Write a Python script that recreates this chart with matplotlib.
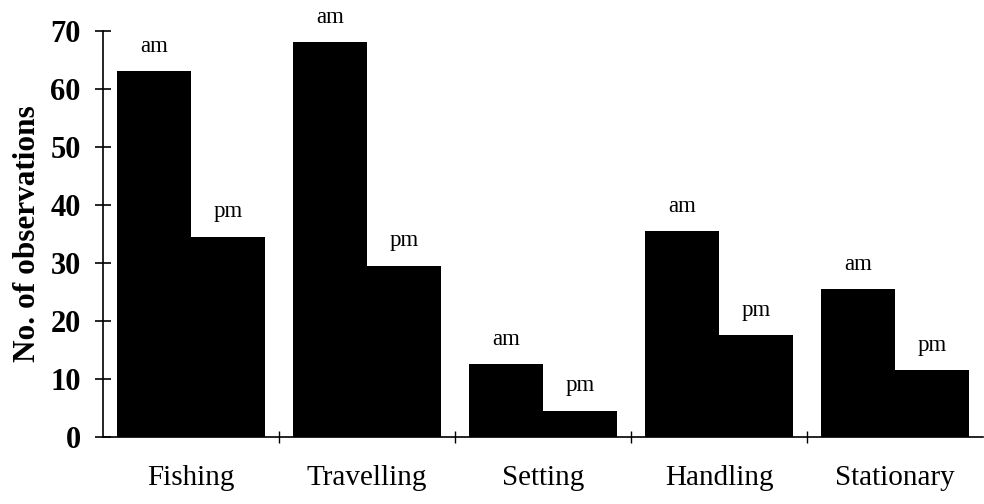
import matplotlib
matplotlib.use("Agg")
import matplotlib.pyplot as plt
import numpy as np

categories = ["Fishing", "Travelling", "Setting", "Handling", "Stationary"]
am_values = [63, 68, 12.5, 35.5, 25.5]
pm_values = [34.5, 29.5, 4.5, 17.5, 11.5]
yticks = [0, 10, 20, 30, 40, 50, 60, 70]

plt.rcParams['font.family'] = ['Liberation Serif', 'DejaVu Serif']

fig = plt.figure(figsize=(9.84, 5.04), dpi=100)
ax = fig.add_axes([103/984, 1-437/504, 880/984, (437-30.7)/504])

x = np.arange(len(categories)) + 0.5
w = 0.42
b1 = ax.bar(x - w/2, am_values, width=w, color='black', linewidth=0)
b2 = ax.bar(x + w/2, pm_values, width=w, color='black', linewidth=0)

for rects, lab in ((b1, 'am'), (b2, 'pm')):
    for r in rects:
        ax.annotate(lab, (r.get_x() + r.get_width()/2, r.get_height()),
                    xytext=(0, 14), textcoords='offset points',
                    ha='center', va='baseline', fontsize=16.5)

ax.set_xlim(0, 5)
ax.set_ylim(0, 70)
ax.set_yticks(yticks)
ax.set_yticklabels([str(t) for t in yticks], fontsize=22, fontweight='bold')
ax.set_xticks([1, 2, 3, 4])
ax.set_xticklabels([])
ax.set_xticks(x, minor=True)
ax.set_xticklabels(categories, minor=True, fontsize=21)
ax.tick_params(axis='x', which='minor', length=0, pad=20)
ax.tick_params(axis='x', which='major', direction='inout', length=9, width=1)
ax.tick_params(axis='y', direction='inout', length=12, width=1.2, pad=10)
ax.set_ylabel("No. of observations", fontsize=22.5, fontweight='bold', labelpad=6)

for s in ('top', 'right'):
    ax.spines[s].set_visible(False)
ax.spines['left'].set_linewidth(1.2)
ax.spines['bottom'].set_linewidth(1.2)

fig.savefig("out.png", dpi=100)
